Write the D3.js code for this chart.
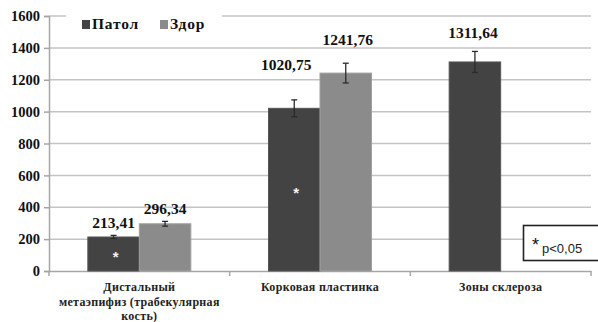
<!DOCTYPE html>
<html>
<head>
<meta charset="utf-8">
<script src="https://cdn.jsdelivr.net/npm/d3@7"></script>
<style>
  body { margin: 0; background: #fff; }
</style>
</head>
<body>
<div id="chart"></div>
<script>
// data
var categories = ["Дистальный метаэпифиз (трабекулярная кость)", "Корковая пластинка", "Зоны склероза"];
var catLines = [["Дистальный", "метаэпифиз (трабекулярная", "кость)"], ["Корковая пластинка"], ["Зоны склероза"]];
var seriesNames = ["Патол", "Здор"];
var patol = [213.41, 1020.75, 1311.64];
var zdor = [296.34, 1241.76, null];
var patolErr = [10, 53, 66];
var zdorErr = [15, 62, null];
var patolSig = [true, true, false];
var yTicks = [0, 200, 400, 600, 800, 1000, 1200, 1400, 1600];

// label nudges (layout only), [dx, dy above bar top]
var labelNudge = [[[0, 9], [0, 10]], [[-8, 38], [2, 28]], [[-2, 24], null]];

var SERIF = "'Liberation Serif'";
var SANS = "'Liberation Sans'";

var width = 598, height = 322;
var colors = { "Патол": "#434343", "Здор": "#8b8b8b" };

var svg = d3.select("#chart").append("svg")
  .attr("width", width)
  .attr("height", height);

var y = d3.scaleLinear().domain([0, 1600]).range([271, 16]);

var x0 = d3.scaleBand().domain(categories).range([49, 591]).padding(0);
var groupW = 103;
var x1 = d3.scaleBand().domain(seriesNames).range([0, groupW]).padding(0);

// gridlines
svg.append("g").selectAll("line")
  .data(yTicks.filter(function(d) { return d > 0; }))
  .enter().append("line")
  .attr("x1", 49).attr("x2", 591)
  .attr("y1", function(d) { return y(d); })
  .attr("y2", function(d) { return y(d); })
  .attr("stroke", "#c4c4c4")
  .attr("stroke-width", 1.5);

// y axis
var yAxis = svg.append("g")
  .attr("transform", "translate(49,0)")
  .call(d3.axisLeft(y).tickValues(yTicks).tickSize(5).tickPadding(4).tickFormat(d3.format("d")));
yAxis.attr("font-family", null);
yAxis.select(".domain").attr("stroke", "#a6a6a6").attr("stroke-width", 1.5);
yAxis.selectAll(".tick line").attr("stroke", "#a6a6a6").attr("stroke-width", 1.5);
yAxis.selectAll(".tick text")
  .style("font-family", SERIF)
  .attr("font-weight", "bold")
  .attr("font-size", "14.5px")
  .attr("fill", "#111");

// x axis
var xAxis = svg.append("g")
  .attr("transform", "translate(0,271)")
  .call(d3.axisBottom(x0).tickSize(0).tickFormat(""));
xAxis.select(".domain").attr("stroke", "#a6a6a6").attr("stroke-width", 1.5);
xAxis.selectAll(".tick").remove();
xAxis.selectAll(".sep")
  .data([0, 1, 2, 3])
  .enter().append("line")
  .attr("x1", function(i) { return i < 3 ? x0(categories[i]) : x0.range()[1]; })
  .attr("x2", function(i) { return i < 3 ? x0(categories[i]) : x0.range()[1]; })
  .attr("y1", 0).attr("y2", 5)
  .attr("stroke", "#a6a6a6").attr("stroke-width", 1.5);

// category labels
var catG = svg.append("g").selectAll("text")
  .data(categories)
  .enter().append("text")
  .style("font-family", SERIF)
  .attr("text-anchor", "middle")
  .attr("font-weight", "bold")
  .attr("font-size", "12px")
  .attr("letter-spacing", "0.3px")
  .attr("fill", "#222")
  .attr("x", function(d) { return x0(d) + x0.bandwidth() / 2; })
  .attr("y", 291);
catG.each(function(d, i) {
  var t = d3.select(this);
  catLines[i].forEach(function(line, j) {
    t.append("tspan")
      .attr("x", x0(d) + x0.bandwidth() / 2)
      .attr("dy", j === 0 ? 0 : 14.5)
      .text(line);
  });
});

// bars
var rows = [];
categories.forEach(function(c, i) {
  rows.push({ cat: c, i: i, s: "Патол", v: patol[i], e: patolErr[i], k: 0 });
  if (zdor[i] != null) rows.push({ cat: c, i: i, s: "Здор", v: zdor[i], e: zdorErr[i], k: 1 });
});

function barX(d) { return x0(d.cat) + (x0.bandwidth() - groupW) / 2 + x1(d.s); }

svg.append("g").selectAll("rect")
  .data(rows)
  .enter().append("rect")
  .attr("x", barX)
  .attr("y", function(d) { return y(d.v); })
  .attr("width", x1.bandwidth())
  .attr("height", function(d) { return y(0) - y(d.v); })
  .attr("fill", function(d) { return colors[d.s]; })
  .attr("stroke", function(d) { return d.s === "Здор" ? "#a0a0a0" : "#555"; })
  .attr("stroke-width", 1);

// error bars
var eb = svg.append("g").attr("stroke", "#2b2b2b").attr("stroke-width", 1.3);
rows.forEach(function(d) {
  var cx = barX(d) + x1.bandwidth() / 2;
  eb.append("line").attr("x1", cx).attr("x2", cx).attr("y1", y(d.v + d.e)).attr("y2", y(d.v - d.e));
  eb.append("line").attr("x1", cx - 3).attr("x2", cx + 3).attr("y1", y(d.v + d.e)).attr("y2", y(d.v + d.e));
  eb.append("line").attr("x1", cx - 3).attr("x2", cx + 3).attr("y1", y(d.v - d.e)).attr("y2", y(d.v - d.e));
});

// value labels
var fmt = function(v) { return v.toFixed(2).replace(".", ","); };
svg.append("g").selectAll("text")
  .data(rows)
  .enter().append("text")
  .style("font-family", SERIF)
  .attr("text-anchor", "middle")
  .attr("font-weight", "bold")
  .attr("font-size", "15.5px")
  .attr("fill", "#111")
  .attr("x", function(d) { return barX(d) + x1.bandwidth() / 2 + labelNudge[d.i][d.k][0]; })
  .attr("y", function(d) { return y(d.v) - labelNudge[d.i][d.k][1]; })
  .text(function(d) { return fmt(d.v); });

// significance asterisks
svg.append("g").selectAll("text")
  .data(rows.filter(function(d) { return d.s === "Патол" && patolSig[d.i]; }))
  .enter().append("text")
  .style("font-family", SANS)
  .attr("text-anchor", "middle")
  .attr("font-size", "15px")
  .attr("font-weight", "bold")
  .attr("fill", "#f4f4f4")
  .attr("x", function(d) { return barX(d) + x1.bandwidth() / 2 + 2; })
  .attr("y", function(d) { return y(d.v / 2) + 8; })
  .text("*");

// legend
var legend = svg.append("g");
legend.append("rect").attr("x", 66).attr("y", 8).attr("width", 156).attr("height", 22).attr("fill", "#fff");
var lx = [82, 160];
seriesNames.forEach(function(s, i) {
  legend.append("rect").attr("x", lx[i]).attr("y", 20).attr("width", 8).attr("height", 9).attr("fill", colors[s]);
  legend.append("text")
    .style("font-family", SERIF)
    .attr("x", lx[i] + 10).attr("y", 29)
    .attr("font-weight", "bold").attr("font-size", "15.5px").attr("letter-spacing", "0.8px").attr("fill", "#111")
    .text(s);
});

// p-value box
var pb = svg.append("g");
pb.append("rect").attr("x", 523.5).attr("y", 225.5).attr("width", 80).attr("height", 35)
  .attr("fill", "#fff").attr("stroke", "#222").attr("stroke-width", 1.6);
pb.append("text").style("font-family", SANS).attr("x", 532).attr("y", 251)
  .attr("font-size", "18px").attr("fill", "#111").text("*");
pb.append("text").style("font-family", SANS).attr("x", 542).attr("y", 253)
  .attr("font-size", "13px").attr("fill", "#222").text("p<0,05");
</script>
</body>
</html>
